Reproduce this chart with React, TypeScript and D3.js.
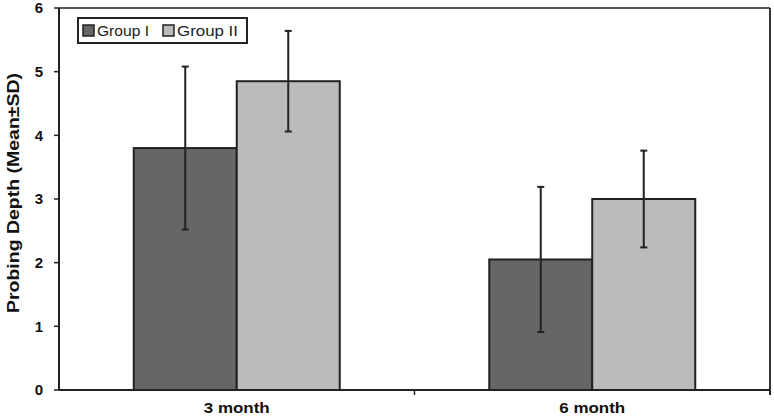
import React from "react";
import * as d3 from "d3";

const categories = ["3 month", "6 month"];
const groups = ["Group I", "Group II"];
const means = [
  [3.8, 4.85],
  [2.05, 3.0],
];
const sds = [
  [1.28, 0.79],
  [1.14, 0.76],
];
const yTicks = [0, 1, 2, 3, 4, 5, 6];
const colors = ["#666666", "#bbbbbb"];

export default function App() {
  const W = 774, H = 416;
  const left = 59, right = 770, top = 8, bottom = 390;
  const y = d3.scaleLinear().domain([0, 6]).range([bottom, top]);
  const x0 = d3.scaleBand().domain(categories).range([left, right]).paddingInner(0).paddingOuter(0);
  const barW = 103;
  const font = "Arial, 'Liberation Sans', sans-serif";
  const legendX = [83, 163];
  const legendLen = [52, 61];
  return (
    <svg width={W} height={H} style={{ position: "absolute", left: 0, top: 0, background: "#fff" }}>
      <rect x={0} y={0} width={W} height={H} fill="#fff" />
      {categories.map((c, ci) => {
        const cx = (x0(c) as number) + x0.bandwidth() / 2;
        return groups.map((g, gi) => {
          const bx = cx - barW + gi * barW;
          const m = means[ci][gi];
          const s = sds[ci][gi];
          const ex = bx + barW / 2;
          return (
            <g key={c + g}>
              <rect x={bx} y={y(m)} width={barW} height={bottom - y(m)} fill={colors[gi]} stroke="#222" strokeWidth={2} />
              <line x1={ex} x2={ex} y1={y(m + s)} y2={y(m - s)} stroke="#222" strokeWidth={2} />
              <line x1={ex - 3.5} x2={ex + 3.5} y1={y(m + s)} y2={y(m + s)} stroke="#222" strokeWidth={2} />
              <line x1={ex - 3.5} x2={ex + 3.5} y1={y(m - s)} y2={y(m - s)} stroke="#222" strokeWidth={2} />
            </g>
          );
        });
      })}
      <line x1={left} x2={right} y1={top} y2={top} stroke="#555" strokeWidth={2} />
      <line x1={right} x2={right} y1={top} y2={bottom + 5} stroke="#333" strokeWidth={2} />
      <line x1={left} x2={left} y1={top} y2={bottom} stroke="#222" strokeWidth={2} />
      <line x1={left} x2={right} y1={bottom} y2={bottom} stroke="#222" strokeWidth={2} />
      {yTicks.map((t) => (
        <g key={t}>
          <line x1={left - 5} x2={left} y1={y(t)} y2={y(t)} stroke="#222" strokeWidth={1.5} />
          <text x={left - 16} y={y(t)} dy="0.36em" textAnchor="end" fontFamily={font} fontWeight="bold" fontSize={15} fill="#111">{t}</text>
        </g>
      ))}
      {categories.map((c) => (
        <g key={c}>
          <line x1={(x0(c) as number) + x0.bandwidth()} x2={(x0(c) as number) + x0.bandwidth()} y1={bottom} y2={bottom + 5} stroke="#222" strokeWidth={1.5} />
          <text x={(x0(c) as number) + x0.bandwidth() / 2} y={413} textAnchor="middle" fontFamily={font} fontWeight="bold" fontSize={15} textLength={66} lengthAdjust="spacingAndGlyphs" fill="#111">{c}</text>
        </g>
      ))}
      <text transform={`translate(13,193) rotate(-90)`} textAnchor="middle" dy="0.35em" fontFamily={font} fontWeight="bold" fontSize={17} textLength={240} lengthAdjust="spacingAndGlyphs" fill="#111">Probing Depth (Mean±SD)</text>
      <rect x={78} y={18} width={169} height={25} fill="#fff" stroke="#222" strokeWidth={2} />
      {groups.map((g, gi) => (
        <g key={g}>
          <rect x={legendX[gi]} y={25} width={11} height={11} fill={colors[gi]} stroke="#222" strokeWidth={1.5} />
          <text x={legendX[gi] + 14} y={31} dy="0.36em" fontFamily={font} fontSize={14} textLength={legendLen[gi]} lengthAdjust="spacingAndGlyphs" fill="#222">{g}</text>
        </g>
      ))}
    </svg>
  );
}
